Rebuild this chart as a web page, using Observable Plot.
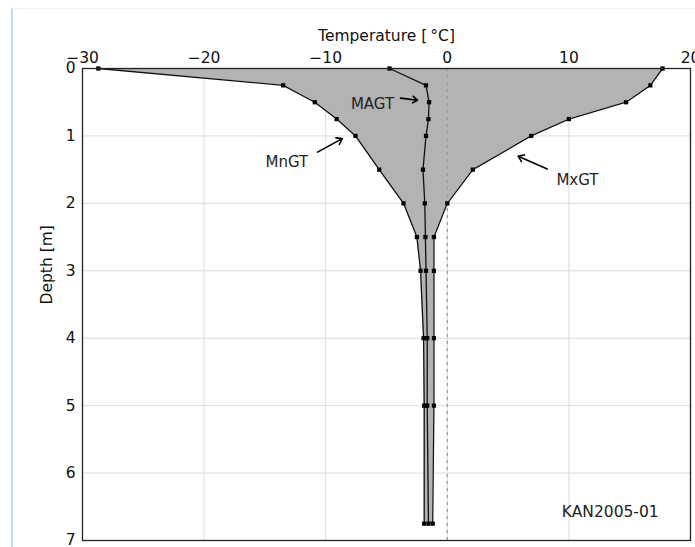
<!DOCTYPE html>
<html>
<head>
<meta charset="utf-8">
<script src="https://cdn.jsdelivr.net/npm/d3@7"></script>
<script src="https://cdn.jsdelivr.net/npm/@observablehq/plot@0.6"></script>
<style>
  html, body { margin: 0; padding: 0; background: #fff; }
  #wrap { position: relative; width: 695px; height: 547px; overflow: hidden; }
  #edge { position: absolute; left: 11px; top: 8px; width: 684px; height: 539px;
          border-left: 2px solid #c9d8ec; border-top: 1px solid #eef2f7; pointer-events: none; box-sizing: border-box; }
  svg { font-family: "DejaVu Sans", sans-serif; }
</style>
</head>
<body>
<div id="wrap"><div id="edge"></div></div>
<script>
// Depth of each sensor [m]
const depths = [0, 0.25, 0.5, 0.75, 1, 1.5, 2, 2.5, 3, 4, 5, 6.75];
// Minimum ground temperature (MnGT) [°C]
const mngt = [-28.7, -13.5, -10.9, -9.1, -7.55, -5.6, -3.6, -2.5, -2.2, -1.95, -1.9, -1.9];
// Mean annual ground temperature (MAGT) [°C]
const magt = [-4.75, -1.75, -1.5, -1.55, -1.75, -2.0, -1.85, -1.8, -1.75, -1.65, -1.65, -1.55];
// Maximum ground temperature (MxGT) [°C]
const mxgt = [17.7, 16.7, 14.7, 10.0, 6.9, 2.1, 0.0, -1.1, -1.1, -1.1, -1.1, -1.2];

const xTicks = [-30, -20, -10, 0, 10, 20];
const yTicks = [0, 1, 2, 3, 4, 5, 6, 7];

// annotation labels and arrow positions (data units)
const labels = [
  {name: "MAGT", x: -6.15, y: 0.53, ax1: -3.85, ay1: 0.44, ax2: -2.45, ay2: 0.47},
  {name: "MnGT", x: -13.2, y: 1.385, ax1: -10.67, ay1: 1.24, ax2: -8.64, ay2: 1.04},
  {name: "MxGT", x: 10.7, y: 1.65, ax1: 8.22, ay1: 1.49, ax2: 5.83, ay2: 1.30}
];
const stationName = "KAN2005-01";

const rows = depths.map((d, i) => ({depth: d, mn: mngt[i], ma: magt[i], mx: mxgt[i]}));
const fmt = d => d < 0 ? "\u2212" + Math.abs(d) : String(d);

const chart = Plot.plot({
  width: 695,
  height: 547,
  marginLeft: 82,
  marginTop: 68,
  marginRight: 5,
  marginBottom: 7,
  style: {fontFamily: "DejaVu Sans, sans-serif", fontSize: "15.5px", background: "transparent", overflow: "visible"},
  x: {domain: [-30, 20]},
  y: {domain: [0, 7], reverse: true},
  marks: [
    Plot.gridX(xTicks, {stroke: "#dcdcdc", strokeOpacity: 1}),
    Plot.gridY(yTicks, {stroke: "#dcdcdc", strokeOpacity: 1}),
    Plot.areaX(rows, {y: "depth", x1: "mn", x2: "mx", fill: "#b3b3b3", curve: "linear"}),
    Plot.ruleX([0], {stroke: "#9a9a9a", strokeDasharray: "3,4", strokeWidth: 1.2}),
    Plot.line(rows, {x: "mn", y: "depth", stroke: "#111", strokeWidth: 1.3}),
    Plot.line(rows, {x: "ma", y: "depth", stroke: "#111", strokeWidth: 1.3}),
    Plot.line(rows, {x: "mx", y: "depth", stroke: "#111", strokeWidth: 1.3}),
    Plot.dot(rows, {x: "mn", y: "depth", symbol: "square", r: 2.4, fill: "#000", stroke: "none"}),
    Plot.dot(rows, {x: "ma", y: "depth", symbol: "square", r: 2.4, fill: "#000", stroke: "none"}),
    Plot.dot(rows, {x: "mx", y: "depth", symbol: "square", r: 2.4, fill: "#000", stroke: "none"}),
    Plot.arrow(labels, {x1: "ax1", y1: "ay1", x2: "ax2", y2: "ay2", stroke: "#000", strokeWidth: 1.6, headLength: 6, headAngle: 70}),
    Plot.text(labels, {x: "x", y: "y", text: "name", fontSize: 15, fill: "#222"}),
    Plot.text([stationName], {x: 13.4, y: 6.58, text: d => d, fontSize: 15.5, fill: "#222"}),
    Plot.axisX(xTicks, {anchor: "top", tickSize: 0, tickPadding: 6, tickFormat: fmt, label: null, fontSize: 15.5, fill: "#111"}),
    Plot.axisY(yTicks, {anchor: "left", tickSize: 0, tickPadding: 7, tickFormat: d => String(d), label: null, fontSize: 15.5, fill: "#111"}),
    Plot.text(["Temperature [\u2009\u00b0C]"], {frameAnchor: "top", dy: -32, lineAnchor: "middle", text: d => d, fontSize: 15.5, fill: "#111"}),
    Plot.text(["Depth [m]"], {frameAnchor: "left", dx: -35, rotate: -90, lineAnchor: "middle", text: d => d, fontSize: 15.5, fill: "#111"}),
    Plot.frame({stroke: "#222", strokeWidth: 1.3})
  ]
});
document.getElementById("wrap").prepend(chart);
</script>
</body>
</html>
